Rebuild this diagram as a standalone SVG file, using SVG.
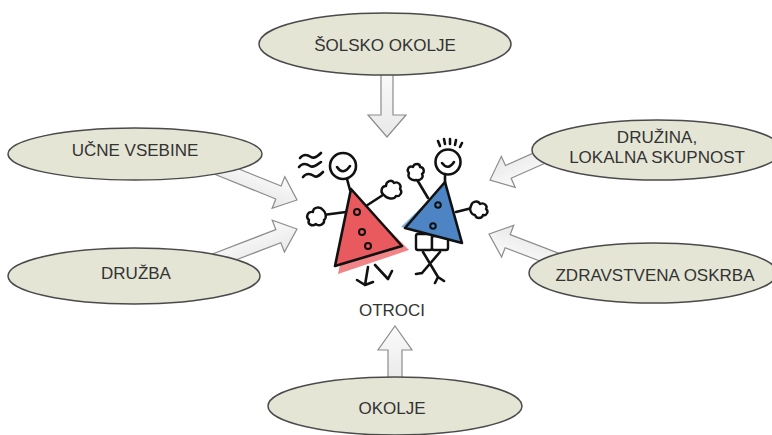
<svg xmlns="http://www.w3.org/2000/svg" width="772" height="435" viewBox="0 0 772 435">
<style>
.node{fill:#e4e5d5;stroke:#4a4a4a;stroke-width:1.5}
.lbl{font-family:"Liberation Sans",Arial,sans-serif;font-size:17px;fill:#333;text-anchor:middle}
.arr{fill:url(#ag);stroke:#8c8c8c;stroke-width:1.2;stroke-linejoin:miter}
.ink{fill:none;stroke:#111;stroke-width:2.6;stroke-linecap:round;stroke-linejoin:round}
.hand{fill:#fff;stroke:#111;stroke-width:2.4;stroke-linejoin:round}
</style>
<defs>
<linearGradient id="ag" x1="0" y1="0" x2="0" y2="1">
<stop offset="0" stop-color="#fbfbfb"/>
<stop offset="1" stop-color="#e8e8e8"/>
</linearGradient>
</defs>
<rect width="772" height="435" fill="#fff"/>
<g id="connectors">
<polygon class="arr" points="381,70 393,70 393,115 406,115 387,137 368,115 381,115"/>
<polygon class="arr" points="388,385 388,350 378,350 395,326 412,350 402,350 402,385"/>
<polygon class="arr" transform="translate(297,200) rotate(22)" points="-90,-7 -20,-7 -20,-17 0,0 -20,17 -20,7 -90,7"/>
<polygon class="arr" transform="translate(297,229) rotate(-21)" points="-90,-7 -20,-7 -20,-17 0,0 -20,17 -20,7 -90,7"/>
<polygon class="arr" transform="translate(490,180) rotate(156)" points="-70,-7 -20,-7 -20,-17 0,0 -20,17 -20,7 -70,7"/>
<polygon class="arr" transform="translate(489,234) rotate(201)" points="-80,-7 -20,-7 -20,-17 0,0 -20,17 -20,7 -80,7"/>
</g>
<g id="solsko-okolje">
<ellipse class="node" cx="385" cy="44" rx="126" ry="31"/>
<text class="lbl" x="385" y="51">ŠOLSKO OKOLJE</text>
</g>
<g id="ucne-vsebine">
<ellipse class="node" cx="135" cy="154" rx="127" ry="26"/>
<text class="lbl" x="135" y="156">UČNE VSEBINE</text>
</g>
<g id="druzba">
<ellipse class="node" cx="134" cy="276" rx="126" ry="28"/>
<text class="lbl" x="136" y="279">DRUŽBA</text>
</g>
<g id="druzina">
<ellipse class="node" cx="657" cy="150" rx="125" ry="30"/>
<text class="lbl" x="657" y="143">DRUŽINA,</text>
<text class="lbl" x="657" y="163">LOKALNA SKUPNOST</text>
</g>
<g id="zdravstvena-oskrba">
<ellipse class="node" cx="653" cy="273" rx="124" ry="30"/>
<text class="lbl" x="655" y="281">ZDRAVSTVENA OSKRBA</text>
</g>
<g id="okolje">
<ellipse class="node" cx="395" cy="406" rx="127" ry="29"/>
<text class="lbl" x="392" y="414">OKOLJE</text>
</g>
<g id="otroci">
<!-- boy -->
<g id="boy">
<path class="ink" d="M440,146 l-2,-5 M445,144 l-1,-5 M450,144 l0,-5 M455,145 l1,-5 M460,147 l2,-4"/>
<circle cx="448" cy="162" r="12.5" fill="#fff" stroke="#111" stroke-width="2.6"/>
<path class="ink" d="M442,163 q6,8 12,-1"/>
<path class="ink" d="M445,174 L445,183"/>
<path class="ink" d="M428,198 L416,178"/>
<path class="hand" d="M416,180 c-5,1 -9,-3 -7,-7 c-3,-3 0,-8 4,-6 c1,-4 7,-4 7,0 c4,0 5,5 2,7 c2,3 -1,7 -6,6 z"/>
<path class="ink" d="M456,212 L472,208"/>
<path class="hand" d="M471,206 c1,-5 7,-6 9,-2 c4,-2 8,2 6,5 c3,2 1,7 -3,6 c-1,4 -7,4 -8,0 c-4,0 -6,-6 -4,-9 z"/>
<rect x="416" y="234" width="16" height="16" rx="2" fill="#fff" stroke="#111" stroke-width="2.4"/>
<rect x="432" y="236" width="16" height="14" rx="2" fill="#fff" stroke="#111" stroke-width="2.4"/>
<polygon points="443,186 401,227 452,240" fill="#6f9fd9" opacity="0.85"/>
<polygon points="445,182 405,228 462,243" fill="#4d84c4" stroke="#111" stroke-width="2.6" stroke-linejoin="round"/>
<circle cx="438" cy="205" r="2.8" fill="none" stroke="#111" stroke-width="2"/>
<circle cx="433" cy="226" r="2.8" fill="none" stroke="#111" stroke-width="2"/>
<path class="ink" d="M423,252 L438,277 M440,252 L422,273 M438,277 l6,4 M438,277 l-3,6 M422,273 l-6,1"/>
</g>
<!-- girl -->
<g id="girl">
<path class="ink" d="M300,158 c4,-5 8,-3 11,-1 s7,-1 10,-4 M299,167 c4,-5 8,-3 11,-1 s7,-1 11,-4 M303,177 c4,-5 8,-3 11,-1 s6,-1 9,-4"/>
<circle cx="343" cy="166" r="13" fill="#fff" stroke="#111" stroke-width="2.6"/>
<path class="ink" d="M337,167 q6,9 13,-1"/>
<path class="ink" d="M347,179 L350,190"/>
<path class="ink" d="M346,212 L323,215"/>
<path class="hand" d="M323,210 c-3,-4 -10,-3 -10,2 c-5,-1 -8,5 -4,8 c-2,4 3,7 7,4 c3,3 9,0 8,-4 c3,-2 2,-8 -1,-10 z"/>
<path class="ink" d="M366,206 L386,193"/>
<path class="hand" d="M384,195 c-4,-2 -3,-9 2,-9 c0,-5 6,-7 8,-3 c4,-2 8,2 6,6 c3,3 0,8 -4,7 c-2,4 -9,3 -12,-1 z"/>
<polygon points="354,195 338,274 409,250" fill="#ef6f72" opacity="0.85"/>
<polygon points="351,189 335,266 402,246" fill="#e85a5e" stroke="#111" stroke-width="2.6" stroke-linejoin="round"/>
<circle cx="357" cy="212" r="3" fill="none" stroke="#111" stroke-width="2"/>
<circle cx="362" cy="232" r="3" fill="none" stroke="#111" stroke-width="2"/>
<circle cx="368" cy="246" r="3" fill="none" stroke="#111" stroke-width="2"/>
<path class="ink" d="M368,267 L365,285 L357,280 M365,285 l8,-3 M375,265 L388,279 L392,271"/>
</g>
<text class="lbl" x="392" y="316">OTROCI</text>
</g>
</svg>
